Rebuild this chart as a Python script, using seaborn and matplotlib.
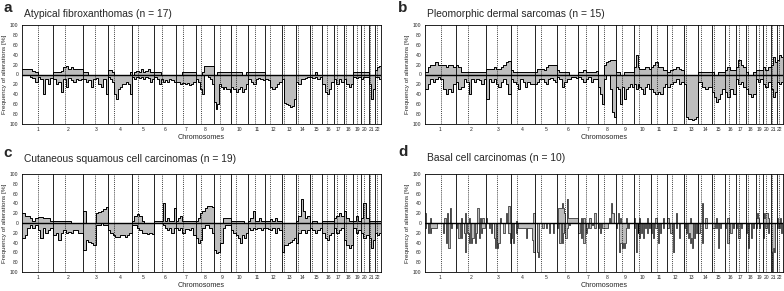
import numpy as np
import pandas as pd
import matplotlib
matplotlib.use("Agg")
import matplotlib.pyplot as plt
import seaborn as sns

# chromosome layout (hg19, Mb)
chromosomes = [str(i) for i in range(1, 23)]
chrom_length = [249, 243, 198, 191, 181, 171, 159, 146, 141, 136, 135, 134,
                115, 107, 103, 90, 81, 78, 59, 63, 48, 51]
centromere = [125, 93, 91, 50, 48, 60, 60, 45, 49, 40, 53, 35,
              18, 18, 19, 37, 24, 17, 27, 28, 13, 15]

# a - Atypical fibroxanthomas, frequencies (%) read per chromosome, p -> q
afx_gain = [
    [12, 12, 12, 12, 8, 6, 0, 0, 0, 0, 0, 0],
    [5, 5, 5, 8, 15, 18, 12, 15, 12, 12, 12, 12],
    [5, 5, 0, 0, 0, 0, 0, 0, 0, 0],
    [10, 10, 5, 0, 0, 0, 0, 0, 0, 0, 0, 5],
    [0, 5, 8, 5, 12, 5, 8, 12, 5, 5],
    [5, 5, 5, 0, 0, 0, 0, 0, 0, 0],
    [0, 0, 0, 5, 5, 5, 5, 5, 5],
    [0, 0, 0, 5, 17, 17, 17, 17, 17],
    [0, 0, 5, 5, 5, 5, 5, 5, 5, 5],
    [5, 5, 5, 5, 5, 0, 0, 5],
    [5, 5, 5, 5, 5, 5, 5],
    [0, 0, 0, 0, 0, 0, 0],
    [0, 0, 0, 0, 0, 0, 0],
    [0, 0, 0, 0, 0, 0],
    [0, 0, 5, 0, 0],
    [0, 0, 0, 0, 0],
    [0, 0, 0, 0],
    [0, 0, 0, 0],
    [5, 5, 5],
    [5, 5, 5],
    [0, 0, 0],
    [10, 15, 18],
]
afx_loss = [
    [0, 0, 0, 5, 8, 15, 5, 10, 40, 10, 20, 8],
    [10, 20, 15, 35, 10, 25, 8, 12, 15, 10, 12, 10],
    [10, 15, 12, 25, 10, 8, 20, 25, 10, 40],
    [5, 10, 15, 40, 50, 30, 25, 20, 20, 15, 20, 40],
    [5, 10, 5, 8, 5, 10, 5, 8, 15, 10],
    [5, 10, 20, 10, 15, 12, 15, 10, 12, 15],
    [15, 15, 20, 18, 20, 18, 22, 20, 15],
    [10, 15, 30, 40, 0, 0, 5, 10, 20],
    [55, 70, 60, 20, 25, 30, 25, 30, 30, 35],
    [25, 30, 35, 30, 25, 35, 30, 20],
    [10, 15, 20, 10, 8, 10, 12],
    [10, 12, 25, 30, 25, 20, 15],
    [10, 58, 60, 62, 65, 63, 50],
    [15, 20, 10, 10, 8, 5],
    [5, 8, 5, 10, 5],
    [20, 35, 40, 30, 15],
    [10, 20, 10, 15],
    [10, 20, 25, 20],
    [5, 8, 5],
    [10, 5, 5],
    [20, 50, 30],
    [5, 5, 10],
]

# b - Pleomorphic dermal sarcomas
pds_gain = [
    [5, 15, 20, 20, 25, 20, 20, 20, 15, 20, 20, 15],
    [20, 15, 5, 5, 5, 5, 5, 5, 5, 5, 5, 5],
    [12, 12, 12, 15, 12, 12, 15, 20, 25, 27],
    [10, 5, 5, 5, 5, 5, 5, 5, 5, 5],
    [5, 12, 12, 12, 10, 15, 20, 20, 20, 20],
    [10, 5, 5, 5, 5, 0, 0, 0, 0],
    [5, 5, 10, 5, 5, 5, 5, 8],
    [0, 0, 0, 20, 25, 28, 30, 30, 30],
    [5, 5, 0, 0, 5, 5, 5, 5, 5],
    [15, 40, 15, 12, 12, 12, 15, 15, 12],
    [15, 20, 25, 15, 15, 10, 10],
    [5, 10, 12, 15, 12, 10],
    [0, 0, 0, 0, 0, 0, 0],
    [5, 5, 5, 5],
    [5, 0, 0, 5, 5, 5],
    [10, 15, 10, 10],
    [15, 30, 20, 15],
    [5, 0, 0, 5],
    [10, 10, 10],
    [15, 10, 15],
    [20, 35, 25],
    [30, 40, 35],
]
pds_loss = [
    [30, 20, 10, 15, 10, 5, 10, 30, 40, 30, 35, 20],
    [15, 30, 25, 10, 15, 40, 10, 15, 10, 12, 20, 10],
    [50, 10, 15, 10, 20, 25, 15, 10, 20, 40],
    [10, 15, 20, 30, 10, 15, 25, 15, 20, 20],
    [20, 15, 10, 10, 15, 20, 10, 8, 12, 15],
    [5, 10, 25, 15, 10, 10, 5, 5, 8],
    [5, 10, 15, 10, 5, 15, 10, 10],
    [25, 40, 60, 10, 0, 0, 30, 75, 85],
    [25, 30, 60, 25, 50, 30, 25, 20, 25],
    [20, 30, 20, 25, 30, 40, 25, 20, 30],
    [30, 35, 40, 35, 40, 25, 20],
    [25, 20, 15, 10, 20, 15],
    [20, 85, 90, 90, 92, 90, 85],
    [15, 25, 30, 25],
    [35, 45, 55, 50, 40, 30],
    [35, 45, 30, 40],
    [10, 20, 15, 25],
    [30, 40, 45, 40],
    [10, 15, 10],
    [20, 25, 15],
    [30, 45, 35],
    [15, 20, 15],
]

# c - Cutaneous squamous cell carcinomas
cscc_gain = [
    [20, 15, 15, 10, 5, 10, 12, 12, 10, 10, 10, 5],
    [5, 5, 5, 5, 5, 5, 5, 0, 0, 0, 0, 0],
    [25, 0, 0, 0, 0, 20, 22, 25, 28, 32],
    [0, 0, 0, 0, 0, 0, 0, 0, 0, 0],
    [5, 15, 18, 15, 5, 0, 0, 0, 0],
    [5, 5, 5, 5, 40, 5, 10, 5, 5, 30],
    [5, 10, 15, 5, 5, 5, 5, 5, 5],
    [5, 10, 20, 25, 30, 35, 35, 33],
    [0, 0, 0, 0, 10, 10, 10, 10],
    [5, 5, 5, 5, 5, 5, 0, 0],
    [5, 10, 25, 5, 5, 10, 5, 5],
    [5, 5, 8, 5, 10, 5, 5],
    [0, 0, 0, 0, 0, 0, 0],
    [5, 15, 50, 25, 10, 15],
    [0, 5, 5, 0, 0],
    [5, 5, 5, 5, 5],
    [10, 15, 20, 15],
    [25, 10, 5, 5],
    [5, 15, 5],
    [10, 40, 10],
    [5, 5, 5],
    [5, 5, 5],
]
cscc_loss = [
    [30, 25, 10, 5, 10, 5, 15, 30, 10, 20, 15, 10],
    [25, 20, 35, 20, 15, 20, 18, 20, 15, 15, 20, 20],
    [55, 35, 38, 40, 45, 5, 5, 0, 5, 5],
    [15, 20, 25, 28, 28, 25, 25, 28, 25, 20],
    [5, 5, 10, 15, 20, 20, 22, 20, 22],
    [0, 0, 0, 0, 5, 10, 15, 10, 20, 10],
    [10, 15, 10, 20, 12, 12, 15, 10, 25],
    [30, 40, 35, 10, 5, 5, 10, 20],
    [55, 62, 60, 40, 10, 5, 5, 5],
    [15, 20, 25, 30, 40, 25, 30, 20],
    [10, 15, 10, 12, 10, 10, 15, 10],
    [10, 12, 15, 10, 20, 10, 15],
    [60, 45, 45, 40, 38, 35, 30],
    [40, 20, 15, 15, 20, 15],
    [10, 15, 20, 15, 10],
    [20, 30, 35, 25, 20],
    [10, 20, 15, 10],
    [35, 45, 50, 45],
    [10, 20, 15],
    [20, 30, 25],
    [30, 50, 35],
    [20, 25, 20],
]

# d - Basal cell carcinomas (sparse, narrow events)
bcc_gain = [
    [20, 0, 0, 0, 10, 0, 0, 0, 0, 0, 0, 0, 0, 0, 0, 10, 0, 20, 0, 30, 0, 0, 0, 0],
    [0, 0, 0, 0, 10, 0, 0, 20, 0, 0, 10, 0, 0, 0, 0, 0, 0, 30, 0, 10, 0, 10, 0, 0],
    [10, 0, 0, 0, 0, 0, 0, 0, 0, 0, 0, 10, 0, 0, 0, 0, 20, 0, 35, 0],
    [0, 0, 0, 0, 5, 0, 0, 0, 0, 0, 0, 0, 0, 0, 0, 0, 0, 0, 0, 20],
    [0, 0, 0, 0, 0, 0, 0, 0, 0, 0, 0, 0, 0, 0, 0, 0, 0, 0, 0, 0],
    [0, 30, 30, 30, 40, 30, 20, 0, 50, 10, 10, 10, 10, 10, 10, 10, 10, 10],
    [0, 0, 10, 0, 10, 0, 0, 0, 0, 10, 0, 0, 0, 20, 0, 0],
    [0, 0, 0, 0, 0, 0, 0, 0, 0, 0, 0, 10, 0, 40, 20, 20, 0, 0],
    [0, 0, 20, 0, 10, 0, 0, 0, 0, 0, 10, 0, 0, 0, 0, 0, 0, 0],
    [10, 0, 0, 0, 0, 0, 10, 0, 0, 0, 0, 0, 0, 0, 10, 0, 0, 0],
    [0, 0, 0, 0, 10, 0, 0, 0, 0, 0, 10, 0, 0, 0],
    [10, 0, 0, 0, 0, 0, 20, 0, 0, 0, 0, 0],
    [0, 0, 0, 0, 0, 0, 10, 0, 0, 0, 0, 0, 0, 0],
    [0, 0, 40, 0, 10, 0, 0, 0],
    [0, 0, 0, 0, 10, 0, 0, 0, 0, 0, 0, 0],
    [0, 0, 10, 0, 0, 0, 0, 0],
    [0, 0, 0, 0, 0, 0, 0, 0],
    [0, 0, 0, 0, 0, 0, 0, 0],
    [10, 20, 10, 0, 0, 0],
    [20, 10, 20, 20, 10, 0],
    [0, 0, 0, 0, 0, 0],
    [10, 0, 0, 10, 0, 0],
]
bcc_loss = [
    [10, 0, 20, 0, 20, 10, 10, 10, 10, 0, 0, 0, 0, 0, 20, 0, 40, 0, 50, 0, 10, 0, 0, 0],
    [10, 0, 30, 0, 30, 0, 20, 60, 0, 20, 40, 0, 40, 30, 0, 40, 20, 0, 30, 0, 20, 10, 10, 0],
    [0, 0, 10, 0, 20, 0, 30, 50, 0, 50, 40, 0, 0, 0, 20, 0, 0, 0, 20, 40],
    [30, 0, 40, 0, 20, 0, 10, 10, 10, 10, 10, 10, 10, 30, 10, 10, 10, 10, 35, 60],
    [0, 0, 60, 70, 0, 0, 0, 10, 0, 0, 10, 0, 0, 20, 0, 0, 20, 0, 0, 0],
    [10, 0, 40, 0, 40, 20, 0, 30, 10, 0, 5, 0, 0, 0, 0, 0, 0, 0],
    [20, 0, 30, 0, 40, 0, 20, 10, 0, 10, 0, 5, 0, 10, 0, 0],
    [10, 0, 20, 0, 10, 10, 10, 10, 10, 10, 0, 0, 0, 0, 0, 0, 0, 0],
    [10, 0, 0, 60, 40, 40, 50, 40, 50, 40, 10, 0, 10, 0, 0, 0, 0, 0],
    [10, 0, 60, 0, 20, 0, 30, 0, 20, 0, 30, 0, 10, 0, 20, 0, 10, 0],
    [20, 0, 30, 0, 10, 0, 40, 0, 20, 0, 10, 0, 0, 0],
    [10, 0, 20, 0, 60, 0, 10, 0, 30, 0, 0, 0],
    [10, 0, 20, 0, 30, 20, 40, 30, 50, 0, 30, 0, 20, 0],
    [20, 0, 40, 0, 10, 0, 0, 0],
    [10, 10, 10, 0, 10, 0, 50, 0, 10, 0, 0, 0],
    [10, 0, 40, 0, 20, 0, 10, 0],
    [10, 0, 30, 0, 10, 0, 0, 0],
    [20, 0, 50, 0, 30, 0, 10, 0],
    [10, 0, 0, 10, 0, 0],
    [30, 0, 10, 0, 20, 0],
    [60, 100, 50, 60, 0, 0],
    [10, 0, 10, 0, 20, 0],
]

titles = ["Atypical fibroxanthomas (n = 17)",
          "Pleomorphic dermal sarcomas (n = 15)",
          "Cutaneous squamous cell carcinomas (n = 19)",
          "Basal cell carcinomas (n = 10)"]
letters = ["a", "b", "c", "d"]

starts = np.concatenate([[0], np.cumsum(chrom_length)[:-1]])
ends = np.cumsum(chrom_length)
total = ends[-1]


def to_steps(per_chrom):
    xs, ys = [], []
    for s, L, vals in zip(starts, chrom_length, per_chrom):
        edges = s + np.linspace(0, L, len(vals) + 1)
        xs.extend(edges[:-1])
        ys.extend(vals)
    xs.append(total)
    ys.append(ys[-1])
    return np.array(xs, dtype=float), np.array(ys, dtype=float)


def draw(ax, gain, loss, lw):
    xg, yg = to_steps(gain)
    xl, yl = to_steps(loss)
    ax.fill_between(xg, 0, yg, step="post", color="#bdbdbd", lw=0)
    ax.fill_between(xl, 0, -yl, step="post", color="#bdbdbd", lw=0)
    df = pd.DataFrame({"pos": np.r_[xg, xl],
                       "freq": np.r_[yg, -yl],
                       "kind": ["gain"] * len(xg) + ["loss"] * len(xl)})
    sns.lineplot(data=df, x="pos", y="freq", units="kind", estimator=None,
                 sort=False, drawstyle="steps-post", color="black", lw=lw, ax=ax)

    for e in ends[:-1]:
        ax.axvline(e, color="black", lw=0.6)
    for s, c in zip(starts, centromere):
        ax.axvline(s + c, color="black", lw=0.5, ls=(0, (1.5, 1.5)))
    ax.axhline(0, color="black", lw=1.0)

    ax.set_xlim(0, total)
    ax.set_ylim(-100, 100)
    ax.set_yticks(range(-100, 101, 20))
    ax.set_yticklabels([str(abs(v)) for v in range(-100, 101, 20)])
    ax.set_xticks(starts + np.array(chrom_length) / 2)
    ax.set_xticklabels(chromosomes)
    ax.tick_params(labelsize=3.6, length=1.5, width=0.4, pad=1)
    ax.set_ylabel("Frequency of alterations [%]", fontsize=4.6, labelpad=2)
    ax.set_xlabel("Chromosomes", fontsize=5.2, labelpad=1)
    for sp in ax.spines.values():
        sp.set_color("black")
        sp.set_linewidth(0.6)


sns.set_theme(style="white")
plt.rcParams["font.family"] = ["Liberation Sans", "DejaVu Sans"]

W, H = 784, 291
fig = plt.figure(figsize=(W / 100, H / 100), dpi=100)

# axes boxes in pixels: left, top, right, bottom
boxes = [(22, 25, 381, 124), (425, 25, 783, 124),
         (22, 174, 381, 272), (425, 174, 783, 272)]
data = [(afx_gain, afx_loss), (pds_gain, pds_loss),
        (cscc_gain, cscc_loss), (bcc_gain, bcc_loss)]
line_widths = [0.7, 0.7, 0.7, 0.45]
title_pos = [(24, 14, 3, 8), (427, 14, 398, 8),
             (24, 159, 3, 153), (427, 158, 398, 152)]

for (l, t, r, b), (g, lo), lw, title, letter, (tx, ty, lx, ly) in zip(
        boxes, data, line_widths, titles, letters, title_pos):
    ax = fig.add_axes([l / W, 1 - b / H, (r - l) / W, (b - t) / H])
    draw(ax, g, lo, lw)
    fig.text(tx / W, 1 - ty / H, title, fontsize=7.4, va="center", ha="left")
    fig.text(lx / W, 1 - ly / H, letter, fontsize=11, fontweight="bold",
             va="center", ha="left")

fig.savefig("out.png", dpi=100)
